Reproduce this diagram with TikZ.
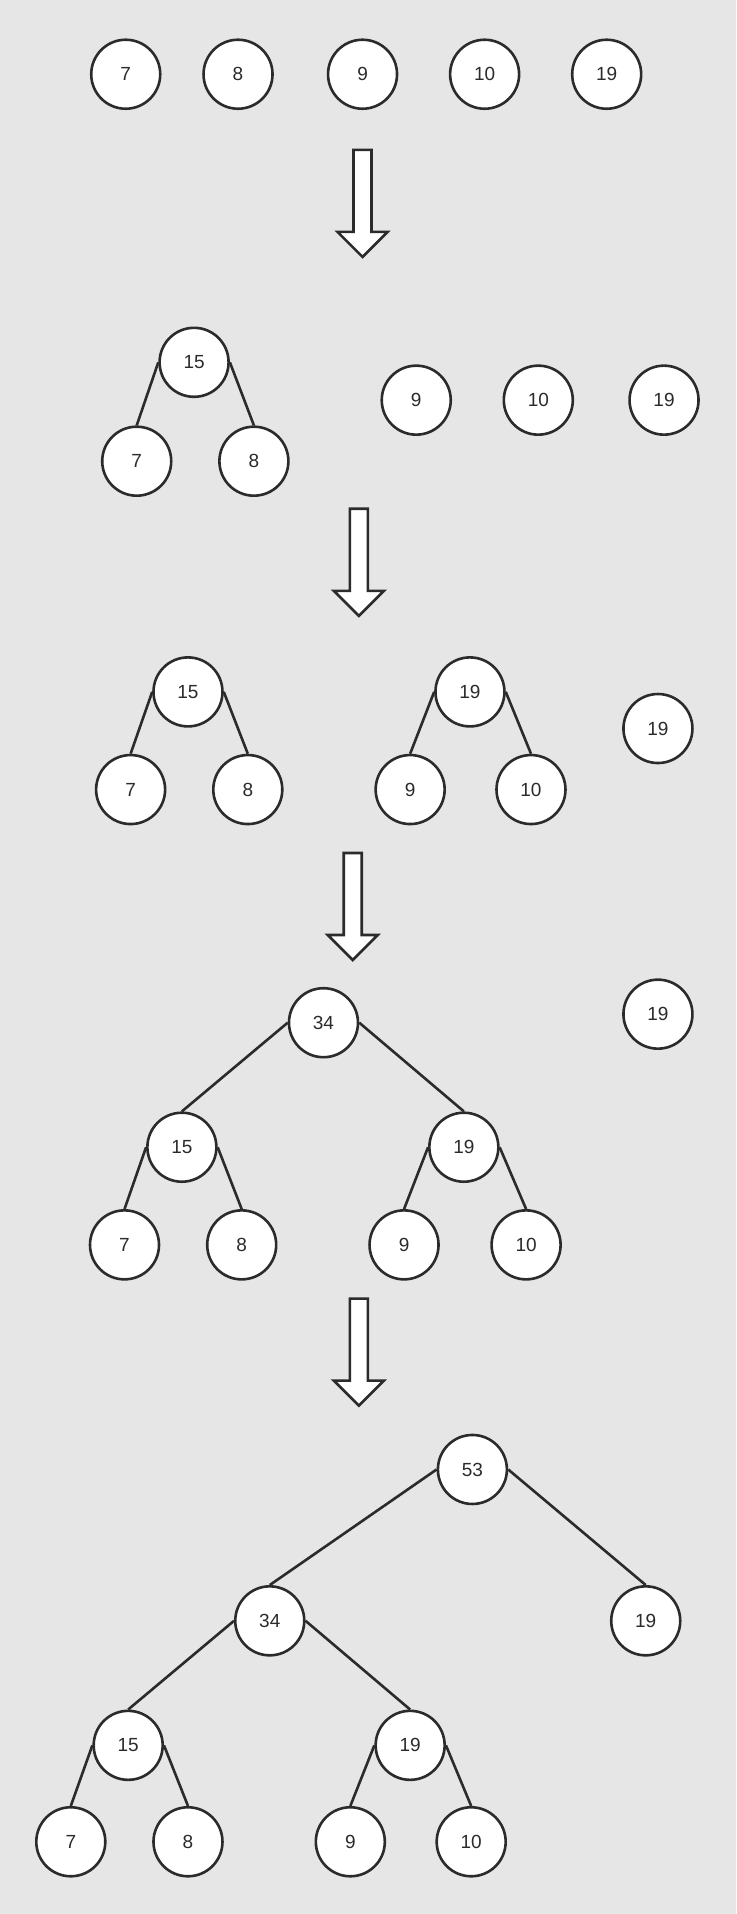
\documentclass[tikz,border=0pt]{standalone}
\usepackage{fontspec}
\setmainfont{Liberation Sans}
\definecolor{bg}{HTML}{E6E6E6}
\definecolor{ink}{HTML}{2B2B2B}
\begin{document}
\begin{tikzpicture}[x=1.2206pt,y=-1.2206pt,
  nd/.style={circle,draw=ink,fill=white,line width=2.6pt,minimum size=69pt,inner sep=0pt,font=\fontsize{19}{21}\selectfont,text=ink},
  ed/.style={draw=ink,line width=2.6pt},
  blockarrow/.pic={\draw[draw=ink,fill=white,line width=2.6pt,line join=miter]
    (-9pt,0pt) -- (9pt,0pt) -- (9pt,-82pt) -- (25pt,-82pt) -- (0pt,-107pt) -- (-25pt,-82pt) -- (-9pt,-82pt) -- cycle;}]
\fill[bg] (0,0) rectangle (603,1568);
\useasboundingbox (0,0) rectangle (603,1568);
\begin{scope}[yshift=-1pt]
% row 1
\node[nd] (a7) at (103,60) {7};
\node[nd] (a8) at (195,60) {8};
\node[nd] (a9) at (297,60) {9};
\node[nd] (a10) at (397,60) {10};
\node[nd] (a19) at (497,60) {19};
\pic at (297,122) {blockarrow};
% row 2
\node[nd] (b15) at (159,296) {15};
\node[nd] (b7) at (112,377) {7};
\node[nd] (b8) at (208,377) {8};
\node[nd] (b9) at (341,327) {9};
\node[nd] (b10) at (441,327) {10};
\node[nd] (b19) at (544,327) {19};
\draw[ed] (b15.west) -- (b7.north);
\draw[ed] (b15.east) -- (b8.north);
\pic at (294,416) {blockarrow};
% row 3
\node[nd] (c15) at (154,566) {15};
\node[nd] (c7) at (107,646) {7};
\node[nd] (c8) at (203,646) {8};
\node[nd] (c19) at (385,566) {19};
\node[nd] (c9) at (336,646) {9};
\node[nd] (c10) at (435,646) {10};
\node[nd] (c19b) at (539,596) {19};
\draw[ed] (c15.west) -- (c7.north);
\draw[ed] (c15.east) -- (c8.north);
\draw[ed] (c19.west) -- (c9.north);
\draw[ed] (c19.east) -- (c10.north);
\pic at (289,698) {blockarrow};
% row 4
\node[nd] (d34) at (265,837) {34};
\node[nd] (d19b) at (539,830) {19};
\node[nd] (d15) at (149,939) {15};
\node[nd] (d19) at (380,939) {19};
\node[nd] (d7) at (102,1019) {7};
\node[nd] (d8) at (198,1019) {8};
\node[nd] (d9) at (331,1019) {9};
\node[nd] (d10) at (431,1019) {10};
\draw[ed] (d34.west) -- (d15.north);
\draw[ed] (d34.east) -- (d19.north);
\draw[ed] (d15.west) -- (d7.north);
\draw[ed] (d15.east) -- (d8.north);
\draw[ed] (d19.west) -- (d9.north);
\draw[ed] (d19.east) -- (d10.north);
\pic at (294,1063) {blockarrow};
% row 5
\node[nd] (e53) at (387,1203) {53};
\node[nd] (e34) at (221,1327) {34};
\node[nd] (e19b) at (529,1327) {19};
\node[nd] (e15) at (105,1429) {15};
\node[nd] (e19) at (336,1429) {19};
\node[nd] (e7) at (58,1508) {7};
\node[nd] (e8) at (154,1508) {8};
\node[nd] (e9) at (287,1508) {9};
\node[nd] (e10) at (386,1508) {10};
\draw[ed] (e53.west) -- (e34.north);
\draw[ed] (e53.east) -- (e19b.north);
\draw[ed] (e34.west) -- (e15.north);
\draw[ed] (e34.east) -- (e19.north);
\draw[ed] (e15.west) -- (e7.north);
\draw[ed] (e15.east) -- (e8.north);
\draw[ed] (e19.west) -- (e9.north);
\draw[ed] (e19.east) -- (e10.north);
\end{scope}
\end{tikzpicture}
\end{document}
